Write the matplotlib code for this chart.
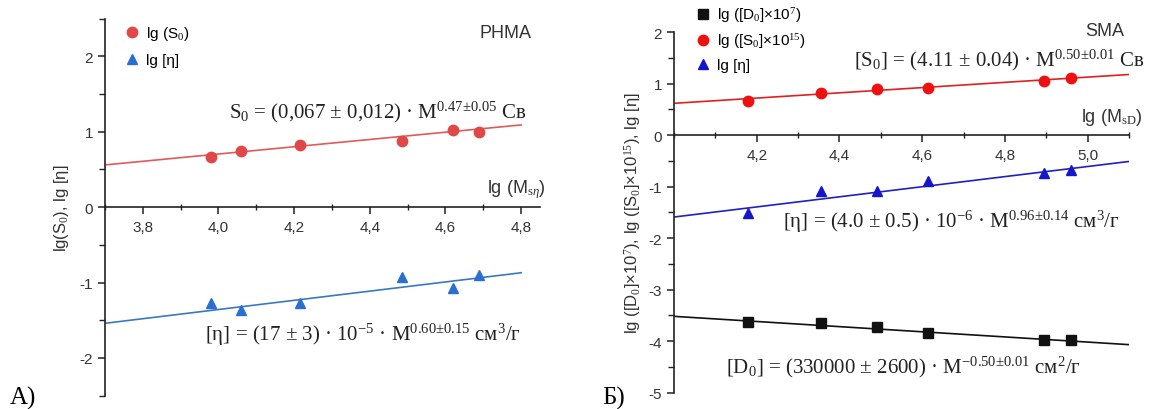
import matplotlib
matplotlib.use('Agg')
import matplotlib.pyplot as plt
from matplotlib.ticker import MultipleLocator, FuncFormatter

plt.rcParams['font.family'] = ['Liberation Sans', 'DejaVu Sans']
plt.rcParams['mathtext.fontset'] = 'custom'
plt.rcParams['mathtext.rm'] = 'Liberation Serif'
plt.rcParams['mathtext.it'] = 'Liberation Serif:italic'
plt.rcParams['axes.unicode_minus'] = False

# PANEL A: PHMA
a_lgM = [3.98, 4.06, 4.215, 4.485, 4.62, 4.69]
a_lgS0 = [0.66, 0.746, 0.82, 0.878, 1.02, 1.00]
a_lgEta = [-1.27, -1.37, -1.27, -0.93, -1.07, -0.90]
a_fit_x = [3.7, 4.8]
a_fit_S0 = [0.56, 1.09]
a_fit_Eta = [-1.54, -0.87]

# PANEL B: SMA
b_lgM = [4.18, 4.355, 4.49, 4.615, 4.895, 4.96]
b_lgD0 = [-3.63, -3.65, -3.72, -3.85, -3.98, -3.98]
b_lgS0 = [0.673, 0.817, 0.90, 0.914, 1.05, 1.115]
b_lgEta = [-1.51, -1.08, -1.08, -0.895, -0.73, -0.67]
b_fit_x = [4.0, 5.1]
b_fit_D0 = [-3.52, -4.07]
b_fit_S0 = [0.62, 1.18]
b_fit_Eta = [-1.59, -0.51]

W, H = 1154, 410
fig = plt.figure(figsize=(W / 100, H / 100), dpi=100)

def px(x, y):
    return x / W, 1 - y / H

comma = FuncFormatter(lambda v, p: f'{v:.1f}'.replace('.', ','))
intfmt = FuncFormatter(lambda v, p: f'{v:.0f}')
serif = ['Liberation Serif', 'DejaVu Serif']


def style_axes(ax):
    for s in ['top', 'right']:
        ax.spines[s].set_visible(False)
    ax.spines['bottom'].set_position(('data', 0))
    for s in ['left', 'bottom']:
        ax.spines[s].set_color('#222222')
        ax.spines[s].set_linewidth(1.2)
    ax.xaxis.set_major_formatter(comma)
    ax.yaxis.set_major_formatter(intfmt)
    ax.yaxis.set_major_locator(MultipleLocator(1))
    ax.yaxis.set_minor_locator(MultipleLocator(0.5))
    ax.xaxis.set_major_locator(MultipleLocator(0.2))
    ax.xaxis.set_minor_locator(MultipleLocator(0.1))
    ax.tick_params(axis='both', which='major', length=5, width=1.1,
                   color='#222222', labelsize=11, labelcolor='#333333')
    ax.tick_params(axis='both', which='minor', length=4, width=1.0, color='#222222')
    ax.tick_params(axis='x', which='major', direction='out', pad=4)
    ax.tick_params(axis='x', which='minor', direction='inout')


# ---- A ----
axA = fig.add_axes([105 / W, 1 - 396.7 / H, (540 - 105) / W, (396.7 - 19.6) / H])
axA.set_xlim(3.7, 4.85)
axA.set_ylim(-2.5, 2.5)
style_axes(axA)
axA.plot(a_fit_x, a_fit_S0, color='#e05a5a', lw=1.2)
axA.plot(a_fit_x, a_fit_Eta, color='#3a78c4', lw=1.2)
axA.plot(a_lgM, a_lgS0, 'o', color='#e04848', ms=7.5, label='lg (S$_0$)')
axA.plot(a_lgM, a_lgEta, '^', color='#2a6fd0', ms=7.5, label='lg [η]')
axA.set_ylabel('lg(S$_0$), lg [η]', fontsize=12, color='#333333', labelpad=6)
axA.legend(loc='upper left', bbox_to_anchor=px(123, 25), bbox_transform=fig.transFigure,
           frameon=False, fontsize=11, handletextpad=0.3, labelspacing=0.75,
           handlelength=1.2, borderaxespad=0, borderpad=0)
fig.text(*px(505, 33), 'PHMA', fontsize=13, color='#333333', ha='center', va='center')
fig.text(*px(516, 190), 'lg (M$_{\\mathrm{s}η}$)', fontsize=13, color='#333333', ha='center', va='center')
fig.text(*px(229, 112), 'S$_0$ = (0,067 ± 0,012) · M$^{0.47±0.05}$ Св', family=serif,
         fontsize=15, color='#222222', ha='left', va='center')
fig.text(*px(205, 335), '[η] = (17 ± 3) · 10$^{-5}$ · M$^{0.60±0.15}$ см$^3$/г', family=serif,
         fontsize=15, color='#222222', ha='left', va='center')
fig.text(*px(10, 398), 'А)', family=serif, fontsize=18, ha='left', va='center')

# ---- B ----
axB = fig.add_axes([674 / W, 1 - 393.5 / H, (1129 - 674) / W, (393.5 - 33.3) / H])
axB.set_xlim(4.0, 5.1)
axB.set_ylim(-5, 2)
style_axes(axB)
axB.set_xticks([4.2, 4.4, 4.6, 4.8, 5.0])
axB.plot(b_fit_x, b_fit_S0, color='#e02020', lw=1.2)
axB.plot(b_fit_x, b_fit_Eta, color='#2020c0', lw=1.2)
axB.plot(b_fit_x, b_fit_D0, color='#111111', lw=1.2)
axB.plot(b_lgM, b_lgD0, 's', color='#111111', ms=7, label='lg ([D$_0$]×10$^7$)')
axB.plot(b_lgM, b_lgS0, 'o', color='#ee1111', ms=7.5, label='lg ([S$_0$]×10$^{15}$)')
axB.plot(b_lgM, b_lgEta, '^', color='#1515cc', ms=7.5, label='lg [η]')
axB.set_ylabel('lg ([D$_0$]×10$^7$), lg ([S$_0$]×10$^{15}$), lg [η]', fontsize=12,
               color='#333333', labelpad=4)
axB.legend(loc='upper left', bbox_to_anchor=px(694, 6), bbox_transform=fig.transFigure,
           frameon=False, fontsize=11, handletextpad=0.3, labelspacing=0.5,
           handlelength=1.2, borderaxespad=0, borderpad=0)
fig.text(*px(1105, 32), 'SMA', fontsize=13, color='#333333', ha='center', va='center')
fig.text(*px(1112, 117), 'lg (M$_{\\mathrm{sD}}$)', fontsize=13, color='#333333', ha='center', va='center')
fig.text(*px(854, 60), '[S$_0$] = (4.11 ± 0.04) · M$^{0.50±0.01}$ Св', family=serif,
         fontsize=15, color='#222222', ha='left', va='center')
fig.text(*px(783, 222), '[η] = (4.0 ± 0.5) · 10$^{-6}$ · M$^{0.96±0.14}$ см$^3$/г', family=serif,
         fontsize=15, color='#222222', ha='left', va='center')
fig.text(*px(726, 367), '[D$_0$] = (330000 ± 2600) · M$^{-0.50±0.01}$ см$^2$/г', family=serif,
         fontsize=15, color='#222222', ha='left', va='center')
fig.text(*px(602, 398), 'Б)', family=serif, fontsize=18, ha='left', va='center')

fig.savefig('out.png', dpi=100)
